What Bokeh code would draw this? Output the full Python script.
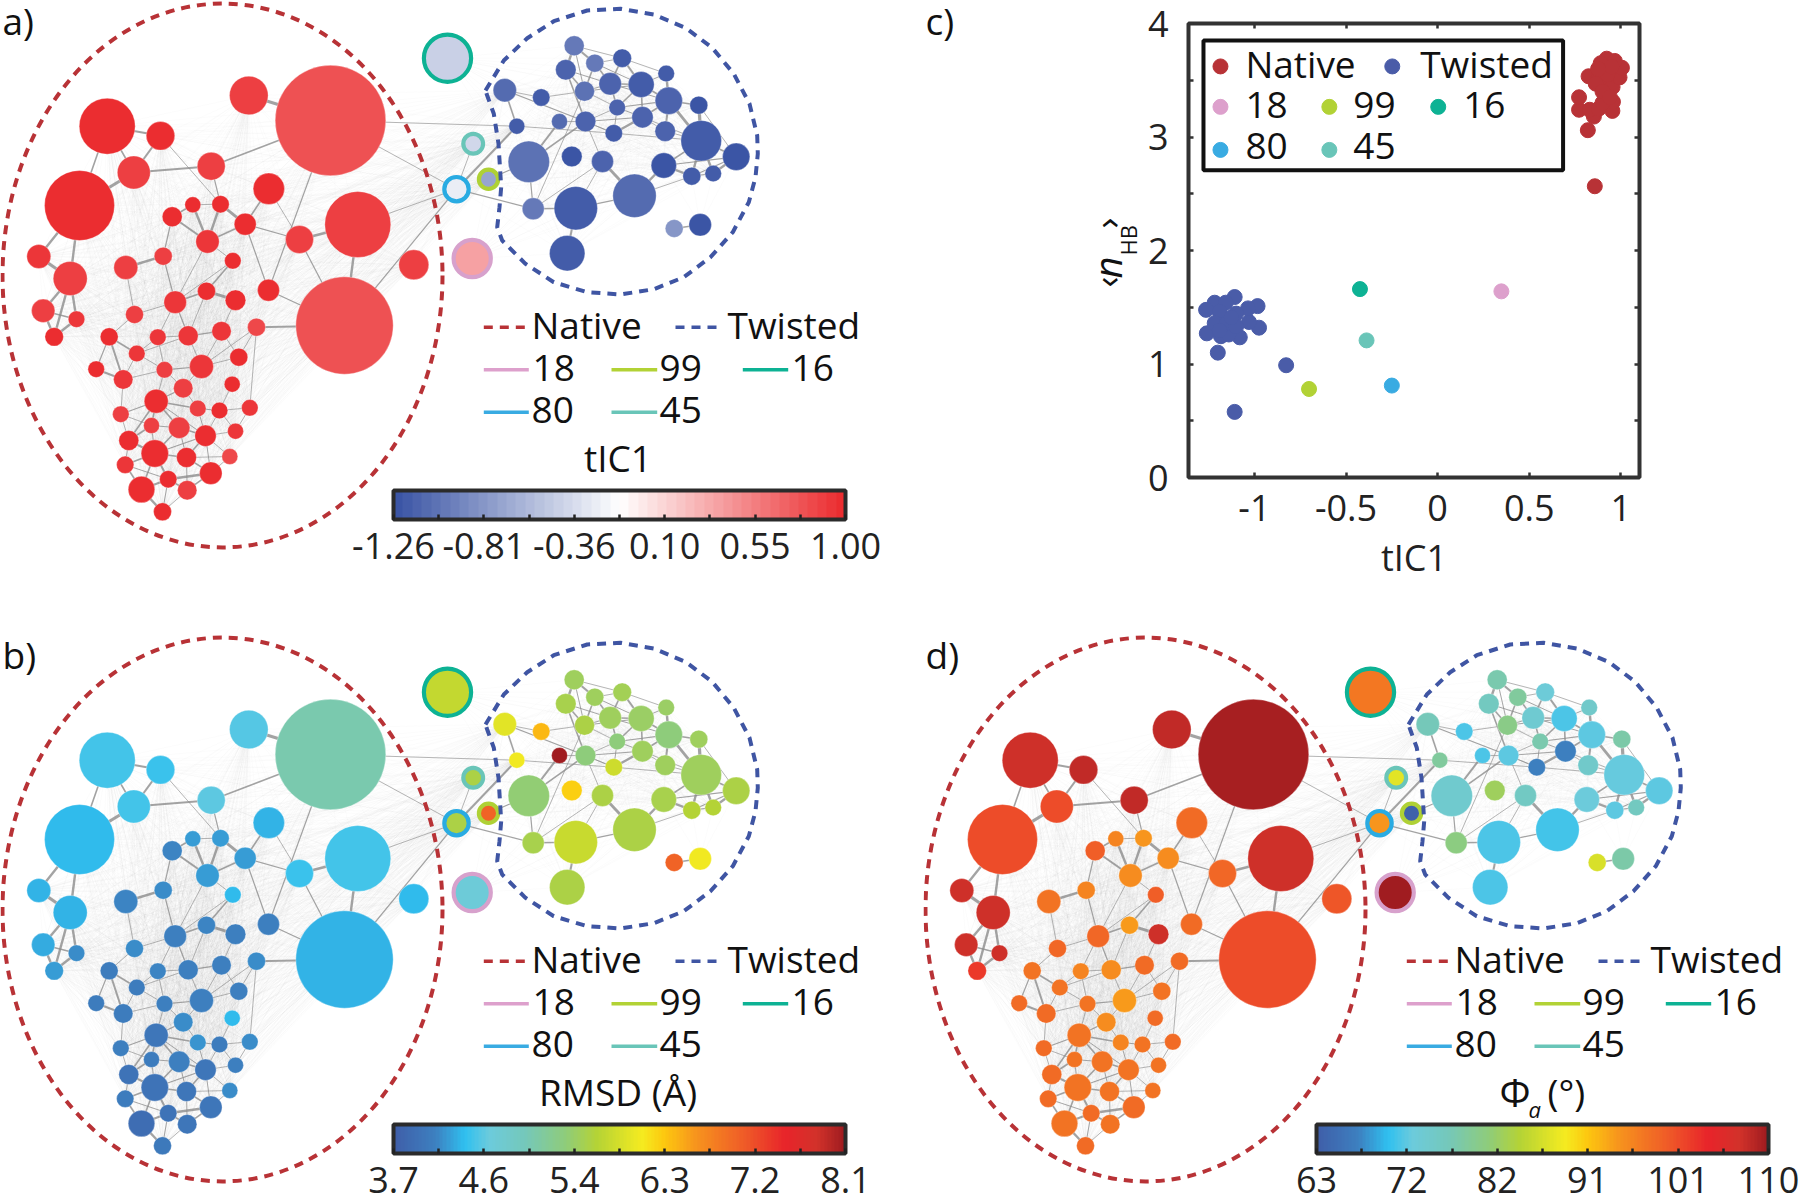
from bokeh.plotting import figure
from bokeh.models import (ColumnDataSource, LinearColorMapper, ColorBar, FixedTicker, Range1d, Label,
                          LinearAxis)
from bokeh.embed import file_html
from bokeh.resources import INLINE
from math import pi

FONT = "Open Sans"

# ---- nodes: x, y (downward), radius (pixels of that panel)
native_x = [330,248.3,106.7,160,133.3,210.7,79,268.3,357.3,299,244.7,220,192.3,171.7,207,232.3,162.7,125.3,38.3,69.7,413.3,
            344,268,206,235,174.7,134,42.7,76,53.7,108.7,157.3,187.7,221,256,136.3,238.3,95.7,164,201,122.7,182.7,231.7,
            155.7,120.3,197.3,219,249.3,151,178.7,205,235,128.3,154.3,186,229.3,124.7,210.3,167.7,186.7,141,162]
native_y = [120,95,125.7,135.3,172,165.7,205,188.3,224,239,223.7,203.7,204.3,216.3,241,260.3,255.7,267,256,278,264.3,
            325,289.7,290.7,299.7,301.7,314,310.3,318.7,336.3,336.3,336.7,335.3,330.7,326.7,353,356.7,368.7,369.3,366,379,387.7,383.7,
            400.7,413.7,408,410,407.3,425,427.3,435.3,430.7,440,453,457,456,464.3,472.7,478.7,489.7,489,511.3]
native_r = [55.3,19.3,28,14.3,16.5,14,35,15.7,33,14,11,8.7,8,10,11.7,8.3,9,12,12,17,15,
            48.7,11,9,10.3,11.3,9,11.7,8.3,9.3,9,8.3,10,9.7,9,8.3,9,8.3,8.3,12,9.7,9.7,8,
            12,8.3,8.3,8.3,8.3,8,10.7,10.7,8,10,13.7,10,8,8.7,11.3,8.7,9.7,13.3,9]
native_tic = [.80,.88,.97,.97,.88,.88,.98,.98,.87,.87,.96,.97,.96,.96,.94,.97,.88,.87,.95,.88,.87,
              .80,.96,.97,.96,.93,.88,.90,.95,.96,.99,.93,.95,.94,.85,.93,.96,.96,.88,.94,.94,.88,.96,
              .97,.88,.86,.96,.95,.88,.88,.99,.94,.97,.99,.97,.85,.94,.97,.98,.90,.98,.97]
native_rmsd = [5.06,4.54,4.49,4.45,4.49,4.58,4.38,4.32,4.47,4.45,4.23,4.25,4.23,4.14,4.23,4.38,4.16,4.14,4.34,4.32,4.38,
               4.34,4.10,4.14,4.10,4.09,4.18,4.30,4.15,4.22,4.05,4.12,4.10,4.10,4.18,4.05,4.10,4.05,4.10,4.10,4.05,4.18,4.38,
               4.00,4.10,4.20,4.05,4.15,4.05,4.08,3.98,4.10,3.95,3.95,4.00,4.15,4.05,3.98,3.95,4.00,3.90,4.02]
native_phi = [109.5,108,107.4,108,100.6,108,100.6,98,107.4,98.5,95,94.5,96,99,95,99,96,97.5,107.4,107.4,100,
              100.6,98,94,107.4,98.5,98.5,107.4,107.4,102,97.5,96,95,98,98,97.5,97.5,98,97.5,94,98,95,98,
              97.5,98,96,97.5,98,97.5,97.5,97.5,97.5,98,97.5,97.5,97.5,98,98,98,97.5,97.5,98]

twisted_x = [573.7,594.3,621.7,565.3,665.7,609.7,640.7,584,504.3,540.7,668.3,616.7,698.3,642,559,585,516.3,613.3,664.7,700.7,
             735.7,528.3,571.3,602,663.3,691.3,712.7,634,575.3,532.7,566.7,673.7,699.7]
twisted_y = [45.3,62.7,57.7,69.3,73,83.3,84,90.7,89.7,97,100.3,107,104.7,116.7,121,121,125.7,132.7,130.7,140.3,
             156.3,161.3,156,161,165,175.7,173,195.3,207.7,208.3,252.7,228,224.3]
twisted_r = [10,9,9.3,10.3,8.3,11.3,13,10,11.7,8.7,13.7,8.3,9,10.7,8,10.3,8,8.7,10.3,20.3,
             13.7,20.7,10.3,11,12.7,9,8.3,21.7,21.7,11,17.7,9,11.3]
twisted_tic = [-.98,-.98,-1.17,-1.13,-1.19,-1.15,-1.17,-1.06,-1.10,-1.19,-1.14,-1.15,-1.24,-1.15,-1.08,-1.13,-1.19,-1.21,-1.16,-1.18,
               -1.24,-1.05,-1.25,-1.13,-1.24,-1.18,-1.18,-1.10,-1.21,-1.0,-1.18,-.82,-1.26]
twisted_rmsd = [5.5,5.52,5.55,5.57,5.48,5.5,5.48,5.6,6.0,6.43,5.38,5.37,5.5,5.5,8.1,5.38,6.08,5.86,5.5,5.52,
                5.62,5.4,6.3,5.6,5.58,5.68,5.68,5.62,5.8,5.57,5.6,7.05,6.08]
twisted_phi = [77.6,78.5,73.3,76,74.8,74.3,71.5,80,76.6,71.5,72.3,77.6,78,67.2,71.8,72.4,78.5,67.2,75,72.8,
               72.5,74.5,82.3,75.5,73,72.3,76.2,71.3,71.5,80.4,71.8,86.5,78]

special_names = ["16", "45", "80", "99", "18"]
special_x = [447, 472.7, 456, 488, 471.7]
special_y = [57.7, 143.3, 188.7, 178.7, 258]
special_r = [25.7, 12, 14.3, 11.7, 20.7]
special_tic = [-.42, -.39, -.26, -.73, .36]
special_rmsd = [5.78, 5.6, 5.6, 7.05, 4.68]
special_phi = [96.8, 87.4, 94.5, 63.5, 110]
special_ring = ["#0DB294", "#69C5B8", "#29ABE2", "#AFD135", "#D7A1CC"]

# ---- strong edges: node, node, weight
strong_edges = [
 ("N2","N1",4),("N3","N4",2.5),("N3","N5",2),("N4","N5",2.5),("N3","N7",2),("N5","N7",4),("N5","N6",2.5),("N6","N1",2),
 ("N4","N12",1),("N6","N12",1.5),("N8","N11",2),("N11","N12",3.5),("N12","N15",3),("N13","N15",3),("N13","N12",1),("N14","N13",2),
 ("N14","N15",2.5),("N11","N15",2),("N11","N10",1.5),("N10","N9",3),("N9","N22",3),("N1","N23",1.5),("N8","N10",1),("N7","N19",3),
 ("N7","N20",3),("N19","N20",4),("N20","N28",3),("N20","N29",3),("N28","N30",3),("N29","N30",3),("N28","N29",2),("N20","N30",3),
 ("N18","N17",3),("N17","N26",1.5),("N14","N17",1.5),("N15","N26",1),("N16","N24",2),("N24","N25",3.5),("N26","N24",2),("N11","N23",1.5),
 ("N23","N22",1.5),("N10","N22",1.5),("N22","N35",2.5),("N33","N26",1.5),("N33","N24",1),("N33","N34",1.5),("N34","N25",1),("N35","N37",1),
 ("N31","N36",2),("N31","N38",1.5),("N31","N41",2.5),("N38","N41",2.5),("N36","N33",1),("N36","N39",1),("N39","N40",1.5),("N40","N37",1),
 ("N40","N42",1),("N42","N44",1.5),("N44","N46",2),("N46","N47",1.5),("N47","N48",1),("N44","N50",2),("N44","N49",2),("N49","N53",2),
 ("N44","N53",2),("N53","N54",2.5),("N54","N50",2),("N50","N51",2),("N51","N55",2),("N54","N55",2),("N51","N52",1),("N51","N56",1),
 ("N55","N58",2),("N54","N59",2.5),("N59","N58",3),("N59","N61",2.5),("N61","N62",3),("N54","N57",2),("N57","N61",2),("N59","N60",2),
 ("N58","N60",2),("N45","N44",1.5),("N45","N53",1),("N34","N40",1),("N35","N48",1),("N43","N47",1),("N58","N56",1),("N61","N54",2),
 ("N44","N51",1.2),("N50","N55",1.2),("N53","N57",1.2),("N46","N51",1.2),("N47","N51",1),("N47","N52",1),("N48","N52",1),("N42","N46",1),
 ("N39","N44",1),("N41","N45",1),("N45","N49",1),("N49","N50",1.2),("N49","N54",1.2),("N54","N51",1.5),("N55","N56",1),("N55","N60",1.2),
 ("N58","N51",1.2),("N60","N62",1),("N59","N62",1.2),("N57","N59",1.2),("N36","N41",1),("N41","N39",1),("N39","N42",1),("N32","N33",1),
 ("N32","N36",1),("N32","N39",1),("N33","N40",1),("N34","N37",1),("N35","N40",1),("N26","N32",1),("N26","N27",1),("N27","N31",1),
 ("N18","N27",1),("N15","N16",1),("N16","N26",1),
 ("N1","S80",1),("N1","T17",1),("N22","S80",1.5),("N9","S80",1),
 ("S80","T17",2.5),("S99","T22",1.5),("S45","S80",1),("S80","T30",1.5),("T9","T17",2),("T9","T16",1.5),("T10","T8",1),("T10","T9",1),
 ("T1","T4",3),("T1","T2",2.5),("T2","T3",1),("T1","T3",1),("T3","T5",1),("T4","T8",2),("T4","T16",2),("T3","T6",2),("T3","T7",2.5),
 ("T6","T7",2),("T2","T6",2),("T2","T8",2),("T5","T11",3),("T7","T11",2),("T7","T12",2),("T7","T14",2),("T11","T14",2),("T11","T19",2.5),
 ("T11","T20",3.5),("T13","T20",4),("T11","T13",2),("T12","T16",1),("T14","T18",3),("T16","T15",1),("T16","T22",2),("T15","T22",2.5),
 ("T18","T16",1),("T18","T20",1),("T19","T20",1),("T20","T25",2),("T20","T21",2),("T20","T26",3),("T20","T27",3),("T21","T27",3),
 ("T21","T25",1.5),("T21","T26",1.5),("T25","T26",3),("T26","T27",1.5),("T25","T28",3),("T24","T28",3.5),("T28","T29",1.5),("T29","T30",2),
 ("T29","T31",2.5),("T28","T26",1),("T22","T30",1.5),("T32","T33",2),("T17","T18",1),("T6","T12",2),("T30","T8",1),("T24","T16",1),
 ("T29","T24",1),("T30","T24",1),
 ("T1","T8",1.2),("T2","T7",1.2),("T4","T6",1.2),("T5","T7",1.2),("T6","T8",1.2),("T6","T11",1.2),("T7","T8",1.2),("T8","T12",1),
 ("T11","T12",1.5),("T12","T14",1.2),("T12","T18",1.2),("T14","T16",1.2),("T14","T19",1),("T16","T18",1),("T13","T21",1),("T20","T14",1),
]

# ---- dashed outline of the twisted basin
twisted_line_x = [485,503.3,526.7,553.3,586.7,620,653.3,685,711.7,733.3,749,756.7,757.3,755,748.3,732.3,710,683.3,653.3,620,586.7,553.3,525,501.7,496.7,499,500.7,498,493.3,486.7,485]
twisted_line_y = [90,60,37.7,20.7,10,8.3,14,27.3,47.3,73.3,103.3,135,153.3,176.7,201.7,231.7,256.7,276.7,288.7,294,291.7,281.7,263.3,240,226.7,206.7,186.7,143.3,113.3,95,90]

# ---- panel c
native_tic_c = [.858,.82,.853,.772,.772,.83,.954,.88,.957,.9,.824,.876,.915,.955,.993,1.006,.923,.89,.967,.928,.863,.9,.95,.876,.94]
native_hb_c = [2.566,3.06,3.18,3.24,3.35,3.24,3.23,3.25,3.31,3.30,3.535,3.52,3.44,3.44,3.525,3.61,3.69,3.65,3.67,3.55,3.47,3.40,3.62,3.6,3.35]
twisted_tic_c = [-1.108,-.827,-1.2,-1.08,-.975,-1.03,-.983,-1.035,-1.108,-1.217,-1.264,-1.157,-1.1,-1.19,-1.26,-1.183,-1.14,-1.217,-1.152,-1.1,-1.19,-1.126]
twisted_hb_c = [.578,.989,1.10,1.235,1.32,1.37,1.51,1.49,1.59,1.54,1.477,1.54,1.444,1.46,1.27,1.245,1.26,1.36,1.36,1.33,1.295,1.41]
special_tic_c = [-.424,-.388,-.25,-.702,.348]
special_hb_c = [1.66,1.208,.81,.78,1.64]
special_marker = ["#0DB294", "#69C5B8", "#39ABE2", "#B2D235", "#DDA0CC"]
NATIVE_C, TWISTED_C = "#B83236", "#4A5CA8"

# ---- colour bars
tic_ticks = [-1.26,-.808,-.356,.096,.548,1.0]
tic_labels = ["-1.26","-0.81","-0.36","0.10","0.55","1.00"]
rmsd_ticks = [3.7,4.58,5.46,6.34,7.22,8.1]
rmsd_labels = ["3.7","4.6","5.4","6.3","7.2","8.1"]
phi_ticks = [63,72.4,81.8,91.2,100.6,110]
phi_labels = ["63","72","82","91","101","110"]

def lerp(stops, n):
    out = []
    for i in range(n):
        f = i / (n - 1)
        for (a, ca), (b, cb) in zip(stops, stops[1:]):
            if a <= f <= b:
                t = (f - a) / (b - a)
                ha = [int(ca[k:k+2], 16) for k in (1, 3, 5)]
                hb = [int(cb[k:k+2], 16) for k in (1, 3, 5)]
                out.append("#%02x%02x%02x" % tuple(round(u + (v - u) * t) for u, v in zip(ha, hb)))
                break
    return out

diverging = lerp([(0, "#3B55A5"), (.5, "#FFFFFF"), (1, "#EB2D30")], 48)
rainbow = lerp([(0,"#3F5FA9"),(.09,"#3D80C0"),(.155,"#2FC0F0"),(.21,"#6CCBDC"),(.29,"#75C8BA"),(.38,"#8FCC7A"),(.45,"#B5D335"),
                (.55,"#F5EB20"),(.60,"#FDC80F"),(.67,"#F7941D"),(.78,"#EF5A28"),(.87,"#E8242A"),(.94,"#D2322A"),(1,"#A01C20")], 128)

# ---- lookups
pos = {}
for pre, xs, ys in (("N", native_x, native_y), ("T", twisted_x, twisted_y)):
    for i, (a, b) in enumerate(zip(xs, ys)):
        pos[f"{pre}{i+1}"] = (a, b)
for nm, a, b in zip(special_names, special_x, special_y):
    pos["S" + nm] = (a, b)

faint = []
nat = [f"N{i+1}" for i in range(len(native_x))]
twi = [f"T{i+1}" for i in range(31)]
for grp in (nat, twi):
    for i, a in enumerate(grp):
        for b in grp[i+1:]:
            faint.append((a, b))
for s in ("S80", "S45", "S99", "T17", "T9"):
    for n in nat:
        faint.append((s, n))
for s in ("S80", "S45", "S99", "S18", "S16"):
    for t in twi[::2]:
        faint.append((s, t))
for t in ("T25", "T26", "T27", "T21"):
    faint.append((t, "T33"))

W1, W2, H1, H2 = 923, 877, 634, 560
L, R, T, B = 1188, 1639.5, 23, 477.7
TXT = "#111111"
BASE = 0.46   # the alphabetic baseline is drawn this many em low in the svg output

def place(p, left, top):
    p.styles = {"position": "absolute", "left": f"{left}px", "top": f"{top}px"}

def network(tag, w, h, nat_v, twi_v, spc_v, low, high, palette, ticks, labels, title):
    p = figure(width=w, height=h, x_range=Range1d(0, w), y_range=Range1d(0, h), output_backend="svg",
               toolbar_location=None, min_border=0, outline_line_color=None)
    p.axis.visible = False
    p.grid.visible = False
    p.background_fill_color = None
    up = lambda seq: [h - v for v in seq]
    mapper = LinearColorMapper(palette=palette, low=low, high=high)
    f = ColumnDataSource(dict(x0=[pos[a][0] for a, b in faint], y0=[h - pos[a][1] for a, b in faint],
                              x1=[pos[b][0] for a, b in faint], y1=[h - pos[b][1] for a, b in faint]))
    p.segment("x0", "y0", "x1", "y1", source=f, line_color="#808080", line_alpha=0.026, line_width=1)
    s = ColumnDataSource(dict(x0=[pos[e[0]][0] for e in strong_edges], y0=[h - pos[e[0]][1] for e in strong_edges],
                              x1=[pos[e[1]][0] for e in strong_edges], y1=[h - pos[e[1]][1] for e in strong_edges],
                              w=[e[2] * 0.8 for e in strong_edges]))
    p.segment("x0", "y0", "x1", "y1", source=s, line_color="#8C8C8C", line_alpha=0.8, line_width="w")
    src = ColumnDataSource(dict(x=native_x + twisted_x, y=up(native_y + twisted_y), r=native_r + twisted_r, v=nat_v + twi_v))
    p.circle("x", "y", radius="r", source=src, fill_color={"field": "v", "transform": mapper},
             line_color="#FFFFFF", line_alpha=0.4, line_width=0.8)
    src2 = ColumnDataSource(dict(x=special_x, y=up(special_y), r=[r - 2.1 for r in special_r], v=spc_v, ring=special_ring))
    p.circle("x", "y", radius="r", source=src2, fill_color={"field": "v", "transform": mapper},
             line_color="ring", line_width=4.2)
    p.ellipse([222], [h - 275], width=[440], height=[544], fill_color=None, line_color="#B83236",
              line_width=4, line_dash="9 7")
    p.line(twisted_line_x, up(twisted_line_y), line_color="#3F55A3", line_width=4, line_dash="9 7")
    # legend
    def leg_line(x0, x1, y, c, dash=None):
        kw = {"line_dash": dash} if dash else {}
        p.line([x0, x1], [h - y, h - y], line_color=c, line_width=3.6, **kw)
    def txt(x, y, t, size=37, **kw):
        p.add_layout(Label(x=x, y=h - (y - BASE * size), text=t, text_font=FONT, text_font_size=f"{size}px", text_color=TXT,
                           text_baseline="alphabetic", **kw))
    leg_line(483.3, 525.7, 326.7, "#B83236", "9 7")
    txt(531, 340.8, "Native")
    leg_line(675, 717.3, 326.7, "#3F55A3", "9 7")
    txt(727, 340.8, "Twisted")
    leg_line(483.3, 528.3, 369.3, "#DDA0CC"); txt(532, 384.5, "18")
    leg_line(611, 656.7, 369.3, "#B2D235"); txt(659, 384.5, "99")
    leg_line(742.3, 787.7, 369.3, "#0DB294"); txt(791, 384.5, "16")
    leg_line(483.3, 528.3, 411.7, "#39ABE2"); txt(531, 426.5, "80")
    leg_line(611, 656.7, 411.7, "#69C5B8"); txt(659, 426.5, "45")
    txt(2, 36.7, tag)
    if title == "phi":
        txt(576, 474.5, "Φ", size=39)
        txt(605, 484.5, "a", size=22, text_font_style="italic")
        txt(624, 474.5, "(°)")
    else:
        txt(617.5, 474.5, title, text_align="center")
    minor = [(a + b) / 2 for a, b in zip(ticks, ticks[1:])]
    cb = ColorBar(color_mapper=mapper, location=(393, h - 519 - 42), width=452, height=29, padding=0, margin=0,
                  ticker=FixedTicker(ticks=ticks, minor_ticks=minor),
                  major_label_overrides=dict(zip(ticks, labels)),
                  major_label_text_font=FONT, major_label_text_font_size="36px", major_label_text_color="#222222",
                  label_standoff=13, major_tick_line_color="#222222", major_tick_line_width=2.5, major_tick_in=5,
                  minor_tick_line_color="#222222", minor_tick_line_width=2.5, minor_tick_in=5, minor_tick_out=0, major_tick_out=0,
                  bar_line_color="#2B2B2B", bar_line_width=4, background_fill_color=None, border_line_color=None,
                  orientation="horizontal")
    p.add_layout(cb, "center")
    return p, txt

# panel a's canvas runs on up to the frame of panel c, which is laid over it, and also carries that panel's outer labels
pa, txt_a = network("a)", L, H1, native_tic, twisted_tic, special_tic, -1.26, 1.0, diverging, tic_ticks, tic_labels, "tIC1")
pb, _ = network("b)", W1, H2, native_rmsd, twisted_rmsd, special_rmsd, 3.7, 8.1, rainbow, rmsd_ticks, rmsd_labels, "RMSD (Å)")
pd, _ = network("d)", W2, H2, native_phi, twisted_phi, special_phi, 63, 110, rainbow, phi_ticks, phi_labels, "phi")

txt_a(925, 37.5, "c)")
def rot(x, y, t, size, **kw):
    pa.add_layout(Label(x=x - BASE * size, y=H1 - y, text=t, text_font=FONT, text_font_size=f"{size}px", text_color=TXT,
                        text_baseline="alphabetic", angle=pi / 2, **kw))
rot(1123, 287, "‹", 36)
rot(1123.5, 278, "n", 38, text_font_style="italic")
rot(1138, 255, "HB", 22)
rot(1123, 228, "›", 36)

# ---- panel c
XL, XR = -1.36, 1.102
xticks = [-1, -.5, 0, .5, 1]
yticks = [0, 1, 2, 3, 4]
yminor = [.5, 1.5, 2.5, 3.5]
pc = figure(width=W2, height=H1, x_range=Range1d(XL, XR), y_range=Range1d(0, 4), output_backend="svg", toolbar_location=None,
            min_border_left=L - W1, min_border_right=W1 + W2 - int(R), min_border_top=T, min_border_bottom=H1 - int(B),
            outline_line_color="#333333", outline_line_width=4, x_axis_label="tIC1", border_fill_color=None)
pc.grid.visible = False
xb = pc.below[0]
yl = pc.left[0]
xb.ticker = FixedTicker(ticks=xticks)
xb.major_label_overrides = {-1: "-1", -.5: "-0.5", 0: "0", .5: "0.5", 1: "1"}
yl.ticker = FixedTicker(ticks=yticks, minor_ticks=yminor)
xt = LinearAxis(ticker=FixedTicker(ticks=xticks), major_label_overrides={v: "" for v in xticks})
yr = LinearAxis(ticker=FixedTicker(ticks=yticks, minor_ticks=yminor), major_label_overrides={v: "" for v in yticks})
pc.add_layout(xt, "above")
pc.add_layout(yr, "right")
for ax in (xb, yl, xt, yr):
    ax.axis_line_color = None
    ax.major_tick_in = 5
    ax.major_tick_out = 0
    ax.minor_tick_in = 5
    ax.minor_tick_out = 0
    ax.major_tick_line_color = "#333333"
    ax.major_tick_line_width = 2.5
    ax.minor_tick_line_color = "#333333"
    ax.minor_tick_line_width = 2.5
    ax.major_label_text_font = FONT
    ax.major_label_text_color = "#222222"
for ax in (xb, yl):
    ax.major_label_text_font_size = "36px"
yl.major_label_standoff = 20
xb.major_label_standoff = 17
xb.axis_label_text_font = FONT
xb.axis_label_text_font_size = "36px"
xb.axis_label_text_font_style = "normal"
xb.axis_label_text_color = "#222222"
xb.axis_label_standoff = 9

pc.scatter(native_tic_c, native_hb_c, size=15, color=NATIVE_C)
pc.scatter(twisted_tic_c, twisted_hb_c, size=15, color=TWISTED_C)
pc.scatter(special_tic_c, special_hb_c, size=15, color=special_marker)

def dx(px):
    return XL + (px - L) / (R - L) * (XR - XL)
def dy(py):
    return 4 * (B - py) / (B - T)
def lab(px, py, t, size=36, **kw):
    pc.add_layout(Label(x=dx(px), y=dy(py - BASE * size), text=t, text_font=FONT, text_font_size=f"{size}px",
                        text_color=TXT, text_baseline="alphabetic", **kw))

# legend of panel c
pc.quad(left=[dx(1203)], right=[dx(1563)], top=[dy(40)], bottom=[dy(170)], fill_color="#FFFFFF", line_color="#111111", line_width=4,
        level="annotation")
leg_x = [1220, 1392, 1220, 1329, 1438, 1220, 1329]
leg_y = [66, 66, 106.5, 106.5, 106.5, 149.6, 149.6]
leg_c = [NATIVE_C, TWISTED_C, "#DDA0CC", "#B2D235", "#0DB294", "#39ABE2", "#69C5B8"]
pc.scatter([dx(a) for a in leg_x], [dy(b) for b in leg_y], size=15, color=leg_c, level="annotation")
lab(1245, 80, "Native", 37)
lab(1420, 80, "Twisted", 37)
lab(1245, 122, "18", 37)
lab(1353, 122, "99", 37)
lab(1463, 122, "16", 37)
lab(1245, 163, "80", 37)
lab(1353, 163, "45", 37)

place(pa, 0, 0)
place(pc, W1, 0)
place(pb, 0, H1)
place(pd, W1, H1)
open("out.html", "w").write(file_html([pa, pc, pb, pd], INLINE))
